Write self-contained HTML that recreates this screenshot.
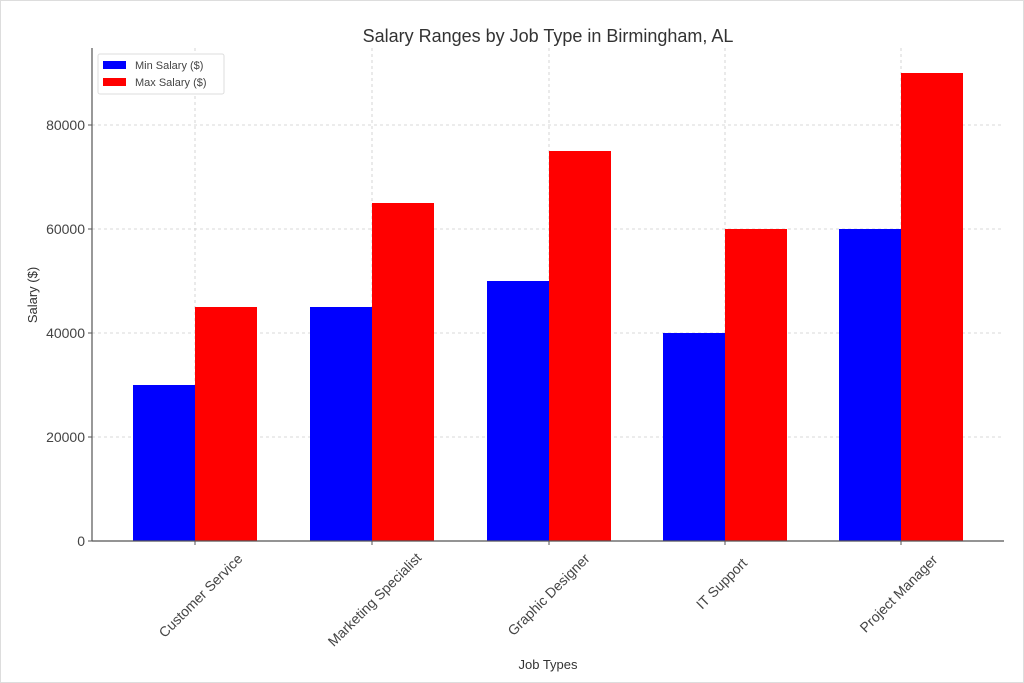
<!DOCTYPE html>
<html><head><meta charset="utf-8"><style>body{margin:0;background:#fff}svg{display:block}</style></head>
<body>
<svg width="1024" height="683" xmlns="http://www.w3.org/2000/svg" font-family="Liberation Sans, DejaVu Sans, sans-serif">
<rect x="0.5" y="0.5" width="1023" height="682" fill="#fff" stroke="#ddd"/>
<g stroke="#ccc" stroke-dasharray="3,3" stroke-width="0.8">
<line x1="92" x2="1004" y1="437" y2="437"/><line x1="92" x2="1004" y1="333" y2="333"/>
<line x1="92" x2="1004" y1="229" y2="229"/><line x1="92" x2="1004" y1="125" y2="125"/>
<line x1="195" x2="195" y1="48" y2="541"/><line x1="372" x2="372" y1="48" y2="541"/>
<line x1="549" x2="549" y1="48" y2="541"/><line x1="725" x2="725" y1="48" y2="541"/>
<line x1="901" x2="901" y1="48" y2="541"/>
</g>
<g fill="#0000ff">
<rect x="133" y="385" width="62" height="156"/>
<rect x="310" y="307" width="62" height="234"/>
<rect x="487" y="281" width="62" height="260"/>
<rect x="663" y="333" width="62" height="208"/>
<rect x="839" y="229" width="62" height="312"/>
</g>
<g fill="#ff0000">
<rect x="195" y="307" width="62" height="234"/>
<rect x="372" y="203" width="62" height="338"/>
<rect x="549" y="151" width="62" height="390"/>
<rect x="725" y="229" width="62" height="312"/>
<rect x="901" y="73" width="62" height="468"/>
</g>
<line x1="92" x2="92" y1="48" y2="541" stroke="#555" stroke-width="1.2"/>
<line x1="92" x2="1004" y1="541" y2="541" stroke="#555" stroke-width="1.2"/>
<g stroke="#555"><line x1="88" x2="92" y1="541" y2="541"/><line x1="88" x2="92" y1="437" y2="437"/><line x1="88" x2="92" y1="333" y2="333"/><line x1="88" x2="92" y1="229" y2="229"/><line x1="88" x2="92" y1="125" y2="125"/>
<line x1="195" x2="195" y1="541" y2="545"/><line x1="372" x2="372" y1="541" y2="545"/><line x1="549" x2="549" y1="541" y2="545"/><line x1="725" x2="725" y1="541" y2="545"/><line x1="901" x2="901" y1="541" y2="545"/></g>
<g font-size="14" fill="#444" text-anchor="end">
<text x="85" y="546">0</text><text x="85" y="442">20000</text><text x="85" y="338">40000</text>
<text x="85" y="234">60000</text><text x="85" y="130">80000</text>
</g>
<g font-size="14" fill="#444" text-anchor="middle">
<text transform="translate(204,599) rotate(-45)">Customer Service</text>
<text transform="translate(378,603) rotate(-45)">Marketing Specialist</text>
<text transform="translate(552,598) rotate(-45)">Graphic Designer</text>
<text transform="translate(725,587) rotate(-45)">IT Support</text>
<text transform="translate(902,597) rotate(-45)">Project Manager</text>
</g>
<text x="548" y="669" font-size="13" fill="#333" text-anchor="middle">Job Types</text>
<text transform="translate(37,295) rotate(-90)" font-size="13" fill="#333" text-anchor="middle">Salary ($)</text>
<text x="548" y="42" font-size="18" fill="#333" text-anchor="middle">Salary Ranges by Job Type in Birmingham, AL</text>
<rect x="98" y="54" width="126" height="40" fill="#fff" stroke="#ddd" rx="2"/>
<rect x="103" y="61" width="23" height="8" fill="#0000ff"/>
<rect x="103" y="78" width="23" height="8" fill="#ff0000"/>
<g font-size="11" fill="#444"><text x="135" y="69">Min Salary ($)</text><text x="135" y="86">Max Salary ($)</text></g>
</svg>
</body></html>
